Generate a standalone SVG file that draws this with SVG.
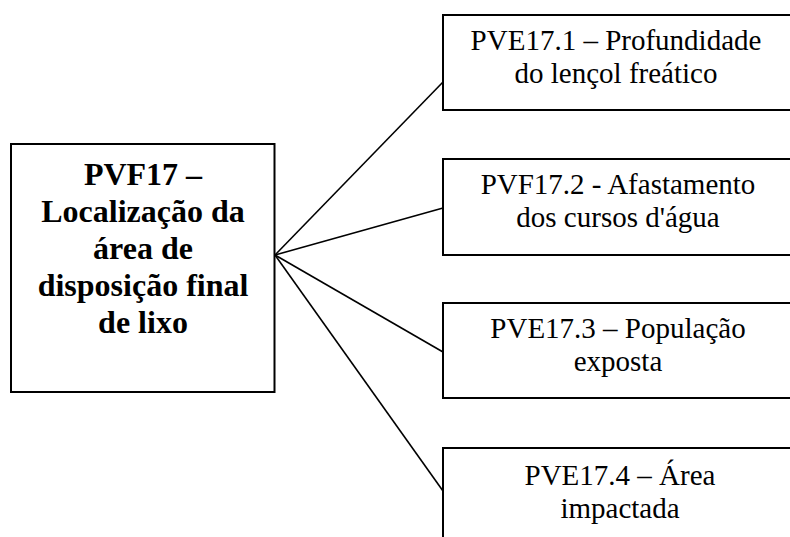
<svg xmlns="http://www.w3.org/2000/svg" width="790" height="537" viewBox="0 0 790 537">
<style>
.box{fill:#fff;stroke:#000;stroke-width:2}
text{font-family:'Liberation Serif','Times New Roman',Times,serif;fill:#000;text-anchor:middle}
.t{font-size:29px}
.tb{font-size:32px;font-weight:bold}
.ln{stroke:#000;stroke-width:1.6;fill:none}
</style>
<rect width="790" height="537" fill="#fff"/>
<g id="connectors">
<line class="ln" x1="275" y1="255" x2="443" y2="82"/>
<line class="ln" x1="275" y1="255" x2="443" y2="208"/>
<line class="ln" x1="275" y1="255" x2="443" y2="352"/>
<line class="ln" x1="275" y1="255" x2="443" y2="491"/>
</g>
<g id="main">
<rect class="box" x="11" y="144" width="263.5" height="248"/>
<text class="tb" x="143" y="185">PVF17 –</text>
<text class="tb" x="143" y="222">Localização da</text>
<text class="tb" x="143" y="259">área de</text>
<text class="tb" x="143" y="296">disposição final</text>
<text class="tb" x="143" y="333">de lixo</text>
</g>
<g id="pve17-1">
<rect class="box" x="443" y="15" width="360" height="95"/>
<text class="t" x="616" y="50">PVE17.1 – Profundidade</text>
<text class="t" x="616" y="83">do lençol freático</text>
</g>
<g id="pvf17-2">
<rect class="box" x="443" y="159" width="360" height="96"/>
<text class="t" x="618" y="194">PVF17.2 - Afastamento</text>
<text class="t" x="618" y="227">dos cursos d'água</text>
</g>
<g id="pve17-3">
<rect class="box" x="443" y="303" width="360" height="95"/>
<text class="t" x="618" y="338">PVE17.3 – População</text>
<text class="t" x="618" y="371">exposta</text>
</g>
<g id="pve17-4">
<rect class="box" x="443" y="448" width="360" height="100"/>
<text class="t" x="620" y="485">PVE17.4 – Área</text>
<text class="t" x="620" y="518">impactada</text>
</g>
</svg>
